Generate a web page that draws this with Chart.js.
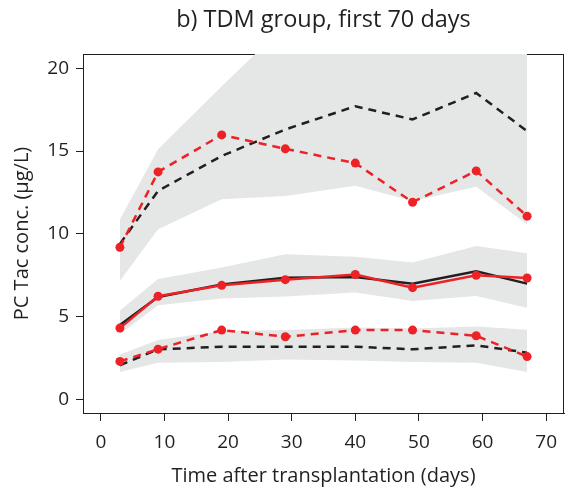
<!DOCTYPE html>
<html>
<head>
<meta charset="utf-8">
<title>TDM group, first 70 days</title>
<style>
  body { margin: 0; background: #fff; }
  canvas { display: block; }
</style>
<script src="https://cdn.jsdelivr.net/npm/chart.js@4/dist/chart.umd.min.js"></script>
</head>
<body>
<canvas id="chart" width="572" height="492"></canvas>
<script>
// time bins (days after transplantation)
const days = [3, 9, 19, 29, 40, 49, 59, 67];

// observed percentiles (red)
const obsP95 = [9.19, 13.74, 15.97, 15.13, 14.27, 11.91, 13.80, 11.07];
const obsP50 = [4.32, 6.24, 6.90, 7.24, 7.55, 6.76, 7.50, 7.34];
const obsP5 = [2.31, 3.05, 4.20, 3.80, 4.20, 4.20, 3.86, 2.60];

// simulated percentiles (black)
const simP95 = [9.4, 12.6, 14.7, 16.3, 17.7, 16.9, 18.5, 16.2];
const simP50 = [4.5, 6.2, 6.95, 7.35, 7.4, 7.0, 7.75, 7.0];
const simP5 = [2.08, 3.04, 3.2, 3.2, 3.2, 3.04, 3.28, 2.84];

// confidence bands around simulated percentiles (grey)
const p95Lo = [7.16, 10.28, 12.09, 12.29, 12.9, 11.99, 12.84, 10.58];
const p95Hi = [10.88, 15.1, 18.9, 22.6, 24, 24, 25, 24];
const p50Lo = [3.95, 5.7, 6.1, 6.22, 6.46, 5.95, 6.25, 5.55];
const p50Hi = [5.37, 7.28, 7.97, 8.77, 8.63, 8.27, 9.27, 8.83];
const p5Lo = [1.67, 2.23, 2.27, 2.43, 2.37, 2.27, 2.23, 1.67];
const p5Hi = [2.73, 3.6, 4.14, 4.2, 4.35, 4.3, 4.42, 4.22];

// axis ticks
const xTicks = [0, 10, 20, 30, 40, 50, 60, 70];
const yTicks = [0, 5, 10, 15, 20];

const RED = '#ed2227';
const GREY = '#e5e6e6';
const INK = '#231f20';
const FONT = "'Open Sans', 'Noto Sans', sans-serif";

const pts = arr => arr.map((v, i) => ({ x: days[i], y: v }));

const band = (lo, hi, loIdx) => [
  { data: pts(lo), borderWidth: 0, pointRadius: 0, fill: false, order: 3 },
  { data: pts(hi), borderWidth: 0, pointRadius: 0, backgroundColor: GREY, fill: { target: loIdx }, order: 3 }
];

const obsLine = (arr, dashed) => ({
  data: pts(arr),
  borderColor: RED,
  backgroundColor: RED,
  borderWidth: 2.5,
  borderDash: dashed ? [8, 6] : [],
  pointRadius: 4.5,
  pointBorderWidth: 0,
  fill: false,
  order: 1
});

const simLine = (arr, dashed) => ({
  data: pts(arr),
  borderColor: INK,
  borderWidth: 2.5,
  borderDash: dashed ? [8, 6] : [],
  pointRadius: 0,
  fill: false,
  order: 2
});

const datasets = [
  ...band(p95Lo, p95Hi, 0),
  ...band(p50Lo, p50Hi, 2),
  ...band(p5Lo, p5Hi, 4),
  simLine(simP95, true),
  simLine(simP50, false),
  simLine(simP5, true),
  obsLine(obsP95, true),
  obsLine(obsP50, false),
  obsLine(obsP5, true)
];

// box round the plot, drawn under the bands
const boxPlugin = {
  id: 'box',
  beforeDatasetsDraw(chart) {
    const { ctx, chartArea: a } = chart;
    ctx.save();
    ctx.strokeStyle = INK;
    ctx.lineWidth = 1;
    ctx.strokeRect(a.left + 0.5, a.top + 0.5, a.right - a.left - 1, a.bottom - a.top);
    ctx.restore();
  }
};

// title centred over the plot area
const titlePlugin = {
  id: 'plotTitle',
  afterDraw(chart) {
    const { ctx, chartArea: a } = chart;
    ctx.save();
    ctx.font = '23.5px ' + FONT;
    ctx.fillStyle = INK;
    ctx.textAlign = 'center';
    ctx.textBaseline = 'middle';
    ctx.fillText('b) TDM group, first 70 days', (a.left + a.right) / 2, 20);
    ctx.restore();
  }
};

new Chart(document.getElementById('chart'), {
  type: 'line',
  data: { datasets },
  plugins: [boxPlugin, titlePlugin],
  options: {
    responsive: false,
    animation: false,
    layout: { padding: { top: 54, right: 8, left: 0, bottom: 0 } },
    plugins: {
      legend: { display: false },
      tooltip: { enabled: false }
    },
    scales: {
      x: {
        type: 'linear',
        min: -2.8,
        max: 72.8,
        afterBuildTicks: s => { s.ticks = xTicks.map(v => ({ value: v })); },
        afterFit: s => { s.height = 79; },
        grid: { drawOnChartArea: false, drawTicks: true, tickLength: 8, color: INK },
        border: { display: true, color: INK, width: 1 },
        ticks: { color: INK, font: { family: FONT, size: 19 }, padding: 10, maxRotation: 0 },
        title: {
          display: true,
          text: 'Time after transplantation (days)',
          color: INK,
          font: { family: FONT, size: 20 },
          padding: { top: 0, bottom: 4 }
        }
      },
      y: {
        type: 'linear',
        min: -0.8,
        max: 20.85,
        afterBuildTicks: s => { s.ticks = yTicks.map(v => ({ value: v })); },
        afterFit: s => { s.width = 83; },
        grid: { drawOnChartArea: false, drawTicks: true, tickLength: 7, color: INK },
        border: { display: true, color: INK, width: 1 },
        ticks: { color: INK, font: { family: FONT, size: 19 }, padding: 7 },
        title: {
          display: true,
          text: 'PC Tac conc. (µg/L)',
          color: INK,
          font: { family: FONT, size: 20 },
          padding: { top: 10, bottom: 0 }
        }
      }
    }
  }
});
</script>
</body>
</html>
